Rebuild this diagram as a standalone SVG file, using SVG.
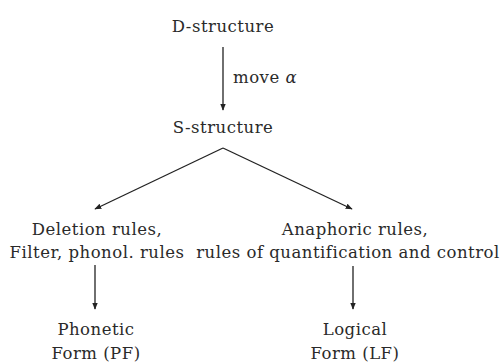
<svg xmlns="http://www.w3.org/2000/svg" width="501" height="363" viewBox="0 0 501 363">
<style>
text{font-family:"DejaVu Serif","Liberation Serif",serif;font-size:16.5px;letter-spacing:0.5px;fill:#2a2a2a;text-anchor:middle}
.c line{stroke:#222;stroke-width:1.3;fill:none}
</style>
<defs>
<marker id="ah" viewBox="0 0 10 10" refX="9" refY="5" markerWidth="7" markerHeight="7" orient="auto" markerUnits="userSpaceOnUse">
<path d="M0,1 L10,5 L0,9 Z" fill="#222"/>
</marker>
</defs>
<rect width="501" height="363" fill="#fff"/>
<g class="c">
<line x1="223" y1="47" x2="223" y2="110" marker-end="url(#ah)"/>
<line x1="223" y1="148" x2="95" y2="209" marker-end="url(#ah)"/>
<line x1="223" y1="148" x2="352" y2="209" marker-end="url(#ah)"/>
<line x1="95" y1="265" x2="95" y2="309" marker-end="url(#ah)"/>
<line x1="353" y1="266" x2="353" y2="309" marker-end="url(#ah)"/>
</g>
<g id="dstructure"><text x="223" y="32">D-structure</text></g>
<g id="move"><text x="233" y="83" style="text-anchor:start">move <tspan font-style="italic">α</tspan></text></g>
<g id="sstructure"><text x="223" y="133">S-structure</text></g>
<g id="deletion"><text x="97" y="235">Deletion rules,</text><text x="97" y="258">Filter, phonol. rules</text></g>
<g id="anaphoric"><text x="355" y="235">Anaphoric rules,</text><text x="348" y="258">rules of quantification and control</text></g>
<g id="pf"><text x="96" y="335">Phonetic</text><text x="96" y="359">Form (PF)</text></g>
<g id="lf"><text x="355" y="335">Logical</text><text x="355" y="359">Form (LF)</text></g>
</svg>
